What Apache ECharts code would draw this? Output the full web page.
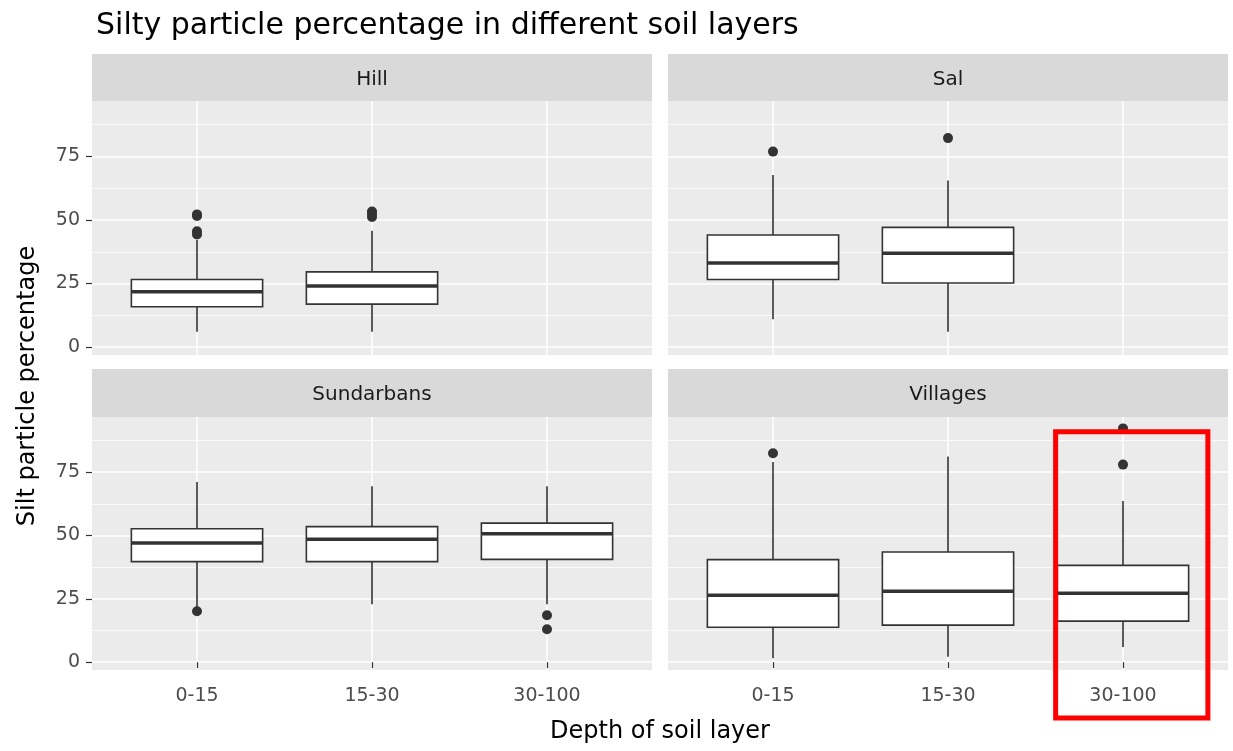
<!DOCTYPE html>
<html>
<head>
<meta charset="utf-8">
<script src="https://cdn.jsdelivr.net/npm/echarts@6/dist/echarts.min.js"></script>
<style>
html,body{margin:0;padding:0;background:#fff;}
#chart{width:1233px;height:751px;}
</style>
</head>
<body>
<div id="chart"></div>
<script>
// ---- data ----
const depths = ['0-15', '15-30', '30-100'];
const facets = ['Hill', 'Sal', 'Sundarbans', 'Villages'];
const yTicks = [0, 25, 50, 75];
const yMinorTicks = [12.5, 37.5, 62.5, 87.5];

// box stats per depth: [lowerWhisker, Q1, median, Q3, upperWhisker]
const hillBoxes = [[6.0, 15.9, 21.8, 26.6, 42.1], [6.0, 16.9, 24.0, 29.6, 45.8]];
const salBoxes = [[11.0, 26.6, 33.1, 44.1, 67.7], [6.0, 25.2, 36.9, 47.1, 65.5]];
const sundarbansBoxes = [[21.8, 39.7, 47.0, 52.7, 71.1], [22.9, 39.7, 48.5, 53.5, 69.5], [22.9, 40.6, 50.7, 54.9, 69.5]];
const villagesBoxes = [[1.5, 13.8, 26.4, 40.5, 79.0], [2.1, 14.6, 28.0, 43.5, 81.2], [6.0, 16.2, 27.2, 38.2, 63.6]];

// outliers: [depth index (1-based), value]
const hillOutliers = [[1, 52.2], [1, 51.6], [1, 45.6], [1, 44.3], [2, 53.3], [2, 52.4], [2, 51.2]];
const salOutliers = [[1, 76.9], [2, 82.2]];
const sundarbansOutliers = [[1, 20.1], [3, 18.5], [3, 13.0]];
const villagesOutliers = [[1, 82.5], [3, 78.0], [3, 92.3]];

const allBoxes = [hillBoxes, salBoxes, sundarbansBoxes, villagesBoxes];
const allOutliers = [hillOutliers, salOutliers, sundarbansOutliers, villagesOutliers];

// ---- layout ----
const FONT = 'DejaVu Sans';
const panels = [
  {left: 92, top: 101, width: 560, height: 254},
  {left: 668, top: 101, width: 560, height: 254},
  {left: 92, top: 417, width: 560, height: 253},
  {left: 668, top: 417, width: 560, height: 253}
];
const Y_MIN = -3.1, Y_MAX = 96.8;
const INK = '#333333';

const chart = echarts.init(document.getElementById('chart'), null, {renderer: 'canvas'});

const grids = panels.map(p => ({
  left: p.left, top: p.top, width: p.width, height: p.height,
  show: true, backgroundColor: '#ebebeb', borderWidth: 0, containLabel: false
}));

const xAxes = panels.map((p, i) => {
  const bottom = i >= 2;
  return {
    type: 'value', gridIndex: i, min: 0.4, max: 3.6,
    axisLine: {show: false},
    axisTick: {show: bottom, customValues: [1, 2, 3], length: 6, lineStyle: {color: INK, width: 1.2}},
    axisLabel: {show: bottom, customValues: [1, 2, 3], margin: 17,
      formatter: v => depths[Math.round(v) - 1] || '',
      color: '#4d4d4d', fontFamily: FONT, fontSize: 19},
    splitLine: {show: true, lineStyle: {color: '#ffffff', width: 1.5}}
  };
});

const yAxes = [];
panels.forEach((p, i) => {
  const leftCol = (i % 2 === 0);
  yAxes.push({
    type: 'value', gridIndex: i, min: Y_MIN, max: Y_MAX,
    axisLine: {show: false},
    axisTick: {show: leftCol, customValues: yTicks, length: 6, lineStyle: {color: INK, width: 1.2}},
    axisLabel: {show: leftCol, customValues: yTicks, margin: 12,
      color: '#4d4d4d', fontFamily: FONT, fontSize: 19},
    splitLine: {show: true, lineStyle: {color: '#ffffff', width: 1.5}}
  });
  yAxes.push({
    type: 'value', gridIndex: i, min: Y_MIN, max: Y_MAX,
    axisLine: {show: false},
    axisTick: {show: false, customValues: yMinorTicks},
    axisLabel: {show: false, customValues: yMinorTicks},
    splitLine: {show: true, lineStyle: {color: '#ffffff', width: 0.8}}
  });
});

function renderBox(params, api) {
  const x = api.value(0);
  const lo = api.coord([x, api.value(1)]);
  const q1 = api.coord([x, api.value(2)]);
  const med = api.coord([x, api.value(3)]);
  const q3 = api.coord([x, api.value(4)]);
  const hi = api.coord([x, api.value(5)]);
  const halfW = api.size([0.75, 0])[0] / 2;
  const st = {stroke: INK, lineWidth: 1.6, fill: null};
  return {
    type: 'group',
    children: [
      {type: 'line', shape: {x1: lo[0], y1: lo[1], x2: q1[0], y2: q1[1]}, style: st},
      {type: 'line', shape: {x1: q3[0], y1: q3[1], x2: hi[0], y2: hi[1]}, style: st},
      {type: 'rect', shape: {x: q3[0] - halfW, y: q3[1], width: 2 * halfW, height: q1[1] - q3[1]},
        style: {fill: '#ffffff', stroke: INK, lineWidth: 1.6}},
      {type: 'line', shape: {x1: med[0] - halfW, y1: med[1], x2: med[0] + halfW, y2: med[1]},
        style: {stroke: INK, lineWidth: 3.5}}
    ]
  };
}

const series = [];
allBoxes.forEach((boxes, i) => {
  series.push({
    type: 'custom', xAxisIndex: i, yAxisIndex: 2 * i,
    renderItem: renderBox,
    encode: {x: 0, y: [1, 2, 3, 4, 5]},
    data: boxes.map((b, k) => [k + 1].concat(b)),
    silent: true, z: 3
  });
  series.push({
    type: 'scatter', xAxisIndex: i, yAxisIndex: 2 * i,
    symbol: 'circle', symbolSize: 10,
    itemStyle: {color: INK, opacity: 1},
    data: allOutliers[i],
    silent: true, z: 4
  });
});

const strips = facets.map((name, i) => {
  const p = panels[i];
  const stripTop = i < 2 ? 54 : 369;
  return [
    {type: 'rect', shape: {x: p.left, y: stripTop, width: p.width, height: p.top - stripTop},
      style: {fill: '#d9d9d9'}, silent: true},
    {type: 'text', x: p.left + p.width / 2, y: stripTop + (p.top - stripTop) / 2 + 2,
      style: {text: name, fill: '#1a1a1a', font: '20px "DejaVu Sans"', align: 'center', verticalAlign: 'middle'},
      silent: true}
  ];
}).flat();

const graphics = strips.concat([
  {type: 'text', x: 660, y: 732,
    style: {text: 'Depth of soil layer', fill: '#000000', font: '24px "DejaVu Sans"', align: 'center', verticalAlign: 'middle'}},
  {type: 'text', x: 28, y: 386, rotation: Math.PI / 2,
    style: {text: 'Silt particle percentage', fill: '#000000', font: '24px "DejaVu Sans"', align: 'center', verticalAlign: 'middle'}}
]);

chart.setOption({
  animation: false,
  backgroundColor: '#ffffff',
  title: {
    text: 'Silty particle percentage in different soil layers',
    left: 91, top: 6,
    textStyle: {fontFamily: FONT, fontSize: 30, fontWeight: 'normal', color: '#000000'}
  },
  grid: grids,
  xAxis: xAxes,
  yAxis: yAxes,
  series: series,
  graphic: graphics
});

// red highlight annotation around the Villages 30-100 box
const cTop = chart.convertToPixel({gridIndex: 3}, [3, 91]);
const cL = chart.convertToPixel({gridIndex: 3}, [2.615, 0]);
const cR = chart.convertToPixel({gridIndex: 3}, [3.485, 0]);
chart.setOption({
  graphic: graphics.concat([{
    type: 'rect', z: 100,
    shape: {x: cL[0], y: cTop[1], width: cR[0] - cL[0], height: 718 - cTop[1]},
    style: {fill: null, stroke: '#ff0000', lineWidth: 5}
  }])
});
</script>
</body>
</html>
